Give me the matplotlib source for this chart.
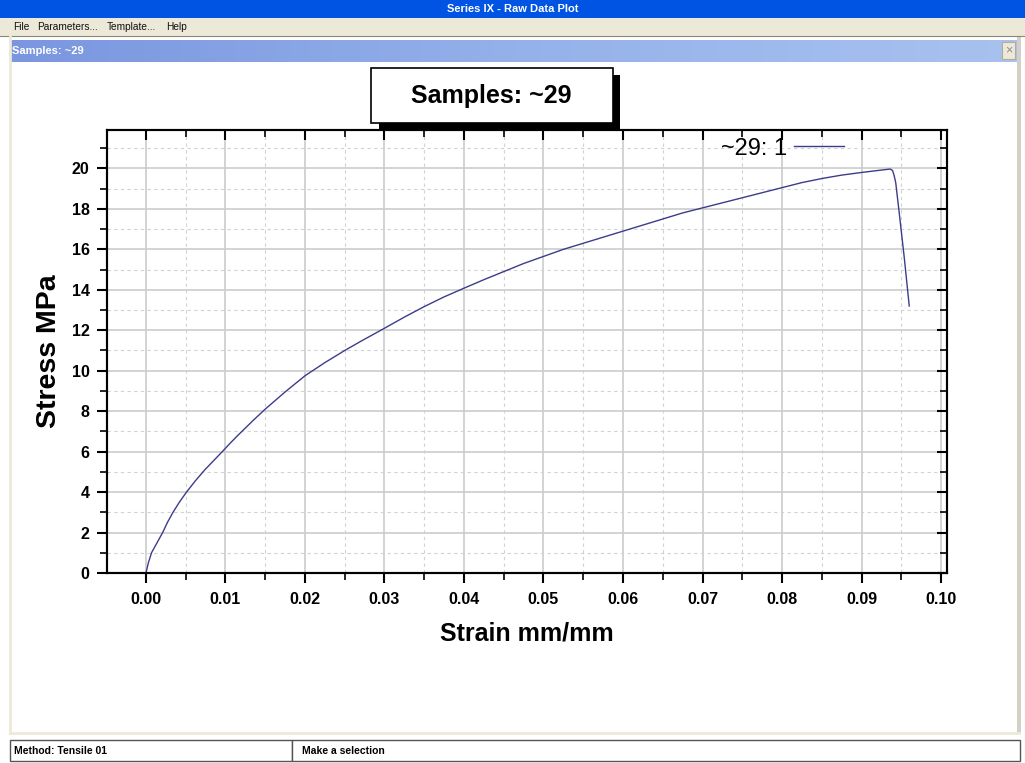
import numpy as np
import matplotlib
matplotlib.use("Agg")
import matplotlib.pyplot as plt
from matplotlib.patches import Rectangle
from matplotlib.ticker import MultipleLocator, FormatStrFormatter

plt.rcParams['font.family'] = ['Liberation Sans', 'DejaVu Sans']

# values
strain = [0.0, 0.0003, 0.0007, 0.0014, 0.0021, 0.0027, 0.0034, 0.0042, 0.0051,
          0.0062, 0.0074, 0.0085, 0.0096, 0.0106, 0.0116, 0.0135, 0.015,
          0.0175, 0.020, 0.0225, 0.025, 0.027, 0.030, 0.0325, 0.035, 0.0375,
          0.040, 0.0425, 0.045, 0.0475, 0.050, 0.0525, 0.055, 0.0575, 0.060,
          0.0625, 0.065, 0.0675, 0.070, 0.0725, 0.075, 0.0775, 0.080, 0.0825,
          0.085, 0.0875, 0.090, 0.0925, 0.0936, 0.0939, 0.0941,
          0.0943, 0.0948, 0.0954, 0.0960]
stress = [0.0, 0.5, 1.0, 1.5, 2.0, 2.5, 3.0, 3.5, 4.0,
          4.55, 5.1, 5.55, 6.0, 6.42, 6.82, 7.55, 8.1,
          8.95, 9.75, 10.4, 11.0, 11.45, 12.1, 12.65, 13.17, 13.65,
          14.08, 14.5, 14.9, 15.3, 15.65, 16.0, 16.3, 16.6, 16.9,
          17.2, 17.5, 17.8, 18.05, 18.3, 18.55, 18.8, 19.05, 19.3,
          19.5, 19.67, 19.8, 19.92, 19.97, 19.9, 19.65,
          19.3, 17.6, 15.5, 13.2]
series_name = "~29: 1"
chart_title = "Samples: ~29"
window_title = "Series IX - Raw Data Plot"
menu_items = ["File", "Parameters...", "Template...", "Help"]
menu_x = [13, 37, 107, 166]
status_texts = ["Method: Tensile 01", "Make a selection"]

W, H = 1025, 763
fig = plt.figure(figsize=(W / 100, H / 100), dpi=100)
fig.patch.set_facecolor('white')

# window chrome, drawn in pixel coordinates
bg = fig.add_axes([0, 0, 1, 1], zorder=0)
bg.set_xlim(0, W)
bg.set_ylim(H, 0)
bg.axis('off')

bg.add_patch(Rectangle((0, 0), W, 18, color='#0054E3', lw=0))
bg.text(W / 2, 9, window_title, color='white', fontsize=8, fontweight='bold',
        ha='center', va='center')
bg.add_patch(Rectangle((0, 18), W, 18, color='#ECE9D8', lw=0))
bg.plot([0, W], [36, 36], color='#8a8778', lw=0.8)
for s, x in zip(menu_items, menu_x):
    bg.text(x, 27, s, fontsize=7.3, ha='left', va='center', color='#111111')

# sub window header with gradient
grad = np.linspace(0, 1, 256).reshape(1, -1)
cmap = matplotlib.colors.LinearSegmentedColormap.from_list(
    'hdr', ['#7A96DF', '#94B1EA', '#A8C2EF'])
bg.imshow(grad, extent=(11, 1017, 62, 40), aspect='auto', cmap=cmap, zorder=1)
bg.text(12, 51, chart_title, color='white', fontsize=8, fontweight='bold',
        ha='left', va='center', zorder=2)
bg.add_patch(Rectangle((1002, 42), 13, 17, facecolor='#ECE9D8',
                       edgecolor='#b0ad9f', lw=0.8, zorder=2))
bg.text(1008.5, 50.5, "\u00d7", fontsize=9, color='#8a8a8a', ha='center',
        va='center', zorder=3)

# frame lines
bg.plot([10, 10], [36, 733], color='#ECE9D8', lw=2)
bg.add_patch(Rectangle((1017, 36), 4, 697, color='#D4D0C8', lw=0))
bg.plot([10, 1019], [733, 733], color='#ECE9D8', lw=2)

# status bar
bg.add_patch(Rectangle((10, 740), 282, 21, facecolor='white',
                       edgecolor='#555555', lw=1))
bg.add_patch(Rectangle((292, 740), 728, 21, facecolor='white',
                       edgecolor='#555555', lw=1))
bg.text(14, 750.5, status_texts[0], fontsize=7.5, fontweight='bold',
        ha='left', va='center')
bg.text(302, 750.5, status_texts[1], fontsize=7.5, fontweight='bold',
        ha='left', va='center')

# title box with shadow
bg.add_patch(Rectangle((379, 75), 241, 57, color='black', lw=0, zorder=2))
bg.add_patch(Rectangle((370.5, 68), 242, 55, facecolor='white',
                       edgecolor='black', lw=1.2, zorder=3))
bg.text(491, 96.5, chart_title, fontsize=18, fontweight='bold',
        ha='center', va='center', zorder=4)

# the chart
left, right, top, bottom = 107, 947, 130, 573
rect = [left / W, (H - bottom) / H, (right - left) / W, (bottom - top) / H]
ax = fig.add_axes(rect, zorder=5)
ax.plot(strain, stress, color='#3C3C8A', lw=1.0, label=series_name)
xlim = (-0.0049, 0.10075)
ylim = (0, 21.9)
ax.set_xlim(*xlim)
ax.set_ylim(*ylim)

ax.xaxis.set_major_locator(MultipleLocator(0.01))
ax.xaxis.set_minor_locator(MultipleLocator(0.005))
ax.yaxis.set_major_locator(MultipleLocator(2))
ax.yaxis.set_minor_locator(MultipleLocator(1))
ax.xaxis.set_major_formatter(FormatStrFormatter('%.2f'))
ax.yaxis.set_major_formatter(FormatStrFormatter('%d'))

ax.set_axisbelow(True)
ax.grid(which='major', color='#cccccc', lw=1.2)
ax.grid(which='minor', color='#d2d2d2', lw=0.8, ls=(0, (3, 3)))

for sp in ax.spines.values():
    sp.set_linewidth(1.5)
ax.tick_params(which='major', direction='out', length=7.5, width=1.5,
               labelsize=11.5, pad=5)
ax.tick_params(which='minor', direction='out', length=5, width=1.2)
ax.tick_params(axis='x', which='major', pad=6.5)
for lab in ax.get_xticklabels() + ax.get_yticklabels():
    lab.set_fontweight('bold')

# inward ticks on top and right, from a twin axes on top
tw = fig.add_axes(rect, zorder=6)
tw.patch.set_visible(False)
tw.set_xlim(*xlim)
tw.set_ylim(*ylim)
tw.xaxis.set_major_locator(MultipleLocator(0.01))
tw.xaxis.set_minor_locator(MultipleLocator(0.005))
tw.yaxis.set_major_locator(MultipleLocator(2))
tw.yaxis.set_minor_locator(MultipleLocator(1))
tw.tick_params(which='both', direction='in', top=True, right=True,
               bottom=False, left=False, labelbottom=False, labelleft=False)
tw.tick_params(which='major', length=7.5, width=1.5)
tw.tick_params(which='minor', length=5, width=1.2)
for sp in tw.spines.values():
    sp.set_linewidth(1.5)

ax.set_xlabel("Strain mm/mm", fontsize=18, fontweight='bold', labelpad=10)
ax.set_ylabel("Stress MPa", fontsize=20.5, fontweight='bold', labelpad=7)

ax.legend(loc='center', bbox_to_anchor=(0.804, 0.958), frameon=False,
          markerfirst=False, fontsize=17, handlelength=2.1,
          handletextpad=0.3, borderpad=0.2)

fig.savefig('out.png', dpi=100)
